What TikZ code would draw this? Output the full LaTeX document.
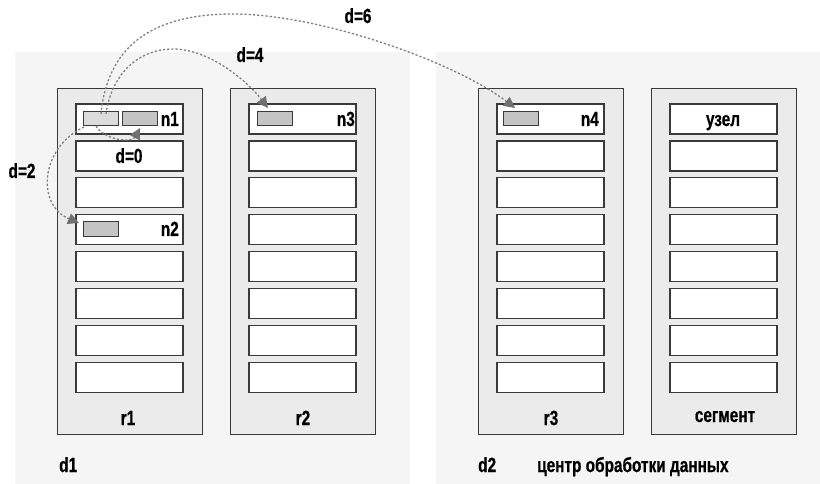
\documentclass[tikz,border=0pt]{standalone}
\usepackage{fontspec}
\setmainfont{Liberation Sans}[FakeStretch=0.75,FakeBold=0.6]
\usetikzlibrary{arrows.meta}
\definecolor{dcfill}{HTML}{F5F5F5}
\definecolor{rackfill}{HTML}{EBEBEB}
\definecolor{edge}{HTML}{3A3A3A}
\definecolor{chipA}{HTML}{DCDCDC}
\definecolor{chipB}{HTML}{C4C4C4}
\definecolor{linkc}{HTML}{808080}
\definecolor{tipc}{HTML}{707070}
\begin{document}
\begin{tikzpicture}[x=1pt,y=-1pt,
  font=\fontsize{20.5}{22}\selectfont\bfseries,
  dcbox/.style={fill=dcfill,draw=none,anchor=north west,inner sep=0pt,minimum width=#1},
  rackbox/.style={fill=rackfill,draw=edge,line width=1.3pt,anchor=north west,inner sep=0pt,minimum width=145pt,minimum height=346pt},
  slotbox/.style={fill=white,draw=edge,line width=1.3pt,inner sep=0pt,minimum width=107pt,minimum height=30pt},
  chip/.style={fill=chipB,draw=edge,line width=1pt,inner sep=0pt,minimum width=35pt,minimum height=14pt},
  chiplight/.style={chip,fill=chipA},
  lbl/.style={inner sep=0pt,text=black,anchor=base},
  link/.style={draw=linkc,line width=1.3pt,dash pattern=on 2.2pt off 2pt,
    -{Triangle[length=11pt,width=11pt,fill=tipc,color=tipc]}}
]
\useasboundingbox (0,0) rectangle (820,484);
% data centres
\node[dcbox=395pt,minimum height=432pt] (d1box) at (15,52) {};
\node[dcbox=384pt,minimum height=432pt] (d2box) at (436,52) {};
% racks
\node[rackbox] (r1box) at (57,88) {};
\node[rackbox] (r2box) at (230,88) {};
\node[rackbox] (r3box) at (478,88) {};
\node[rackbox] (r4box) at (651,88) {};
% slots
\foreach \r/\x in {a/76,b/249,c/497,s/670}{
  \foreach \i in {1,...,8}{
    \node[slotbox] (\r\i) at ({\x+53.5},{119+(\i-1)*36.9}) {};
  }
}
% chips
\node[chiplight] (c1) at (100.5,119) {};
\node[chip] (c2) at (140,119) {};
\node[chip] (c3) at (100.5,229) {};
\node[chip] (c4) at (274.5,119) {};
\node[chip] (c5) at (520.5,119) {};
% slot labels
\node[lbl,anchor=base east] (n1) at (179,126) {n1};
\node[lbl,anchor=base east] (n2) at (179,236) {n2};
\node[lbl,anchor=base east] (n3) at (355,126) {n3};
\node[lbl,anchor=base east] (n4) at (599,126) {n4};
\node[lbl] (uzel) at (723,126) {узел};
\node[lbl] (d0) at (129,163) {d=0};
% rack labels
\node[lbl] (r1) at (128,425) {r1};
\node[lbl] (r2) at (303,425) {r2};
\node[lbl] (r3) at (551,425) {r3};
\node[lbl] (seg) at (725,422) {сегмент};
% dc labels
\node[lbl,anchor=base west] (d1) at (59,472) {d1};
\node[lbl,anchor=base west] (d2) at (478,472) {d2};
\node[lbl,anchor=base west] (dc) at (537,472) {центр обработки данных};
% distance labels
\node[lbl] (l6) at (358,23) {d=6};
\node[lbl] (l4) at (250,62) {d=4};
\node[lbl] (l2) at (22,178) {d=2};
% links
\coordinate (s6) at (101,114);
\coordinate (s4) at (106,114);
\coordinate (s0) at (96,126);
\coordinate (s2) at (84,127);
\coordinate (t6) at (515,108);
\coordinate (t4) at (268,108);
\coordinate (t0) at (140,128);
\coordinate (t2) at (79,223);
\draw[link] (s6) .. controls (108,40) and (160,14) .. (233,14) .. controls (320,14) and (455,62) .. (t6);
\draw[link] (s4) .. controls (112,72) and (140,49) .. (173,49) .. controls (210,49) and (248,82) .. (t4);
\draw[link] (s0) .. controls (104,140) and (132,143) .. (t0);
\draw[link] (s2) .. controls (40,148) and (36,205) .. (t2);
\end{tikzpicture}
\end{document}
